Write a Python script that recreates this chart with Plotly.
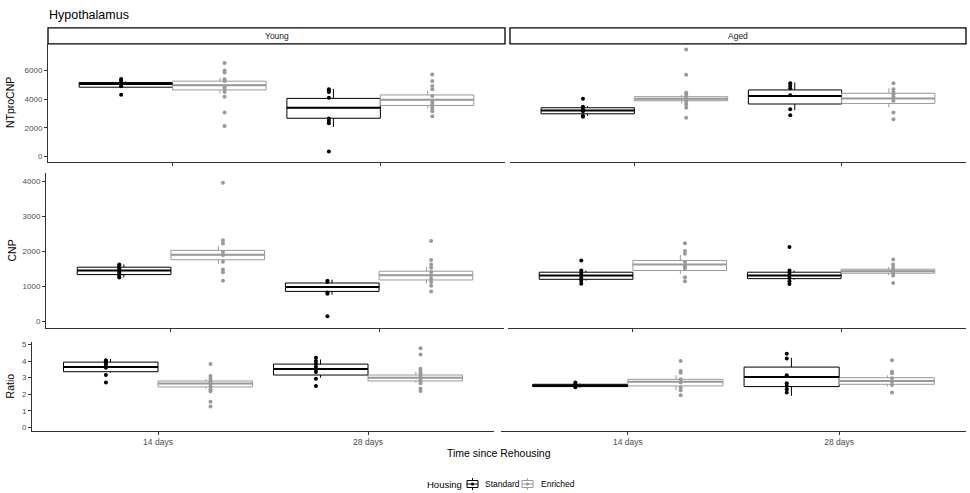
import plotly.graph_objects as go

W, H = 970, 493

AGES = ["Young", "Aged"]
TIMES = ["14 days", "28 days"]
HOUSING = ["Standard", "Enriched"]
MEASURES = ["NTproCNP", "CNP", "Ratio"]

# --- DATA ---
# group order in every list: Young 14 d, Young 28 d, Aged 14 d, Aged 28 d
# box rows: (q1, median, q3, whisker low, whisker high)
NTPRO_STD_BOX = [(4830, 5060, 5160, 4870, 5230), (2670, 3400, 4050, 2060, 4710),
                 (2980, 3210, 3400, 2840, 3520), (3660, 4220, 4640, 3230, 5160)]
NTPRO_ENR_BOX = [(4640, 4970, 5250, 4400, 5500), (3560, 3960, 4290, 3350, 4590),
                 (3890, 4030, 4170, 3700, 4290), (3700, 4050, 4410, 3420, 4760)]
NTPRO_STD_PTS = [[5400, 5300, 5200, 5100, 5000, 4900, 4310],
                 [4690, 4590, 4500, 4100, 2650, 2480, 2320, 350],
                 [4030, 3470, 3300, 3160, 2840, 2770],
                 [5110, 4920, 4760, 4270, 3300, 2880]]
NTPRO_ENR_PTS = [[6515, 6000, 5860, 5390, 5270, 4830, 4690, 4500, 4170, 3070, 2130],
                 [5720, 5270, 4920, 4690, 4220, 3820, 3660, 3520, 3350, 3160, 2810],
                 [7450, 5700, 4450, 4340, 4170, 4030, 3820, 3630, 3400, 2700],
                 [5110, 4690, 4500, 4340, 4170, 3890, 3070, 2600]]

CNP_STD_BOX = [(1330, 1446, 1542, 1250, 1620), (848, 973, 1089, 752, 1185),
               (1195, 1301, 1398, 1157, 1446), (1214, 1301, 1398, 1185, 1446)]
CNP_ENR_BOX = [(1754, 1899, 2024, 1640, 2150), (1176, 1311, 1427, 1080, 1542),
               (1446, 1620, 1735, 1350, 1890), (1369, 1427, 1484, 1311, 1542)]
CNP_STD_PTS = [[1620, 1580, 1540, 1500, 1460, 1420, 1380, 1330, 1290, 1250],
               [1157, 1118, 819, 781, 135],
               [1735, 1446, 1378, 1311, 1234, 1157, 1070],
               [2120, 1446, 1378, 1311, 1234, 1137, 1060]]
CNP_ENR_PTS = [[3960, 2313, 2217, 1976, 1889, 1696, 1475, 1398, 1157],
               [2294, 1745, 1620, 1523, 1407, 1311, 1214, 1118, 1012, 848],
               [2226, 2005, 1928, 1687, 1571, 1513, 1253, 1137],
               [1764, 1620, 1523, 1446, 1378, 1301, 1089]]

RATIO_STD_BOX = [(3.36, 3.64, 3.94, 3.30, 4.14), (3.16, 3.52, 3.82, 3.00, 4.10),
                 (2.46, 2.52, 2.60, 2.40, 2.64), (2.46, 3.04, 3.64, 1.90, 4.20)]
RATIO_ENR_BOX = [(2.44, 2.64, 2.80, 2.34, 2.90), (2.80, 3.00, 3.16, 2.70, 3.34),
                 (2.50, 2.76, 2.90, 2.24, 3.14), (2.60, 2.80, 3.00, 2.46, 3.14)]
RATIO_STD_PTS = [[4.06, 3.96, 3.84, 3.70, 3.60, 3.16, 2.70],
                 [4.20, 4.00, 3.84, 3.66, 3.50, 3.34, 2.94, 2.50],
                 [2.70, 2.62, 2.55, 2.48, 2.42],
                 [4.44, 4.16, 3.14, 2.66, 2.50, 2.30, 2.10]]
RATIO_ENR_PTS = [[3.82, 3.10, 2.94, 2.80, 2.64, 2.46, 2.30, 2.18, 1.54, 1.26],
                 [4.78, 4.40, 3.54, 3.40, 3.26, 3.10, 2.94, 2.80, 2.66, 2.34, 2.20],
                 [4.00, 3.40, 3.30, 2.90, 2.70, 2.40, 2.24, 1.94],
                 [4.06, 3.36, 3.26, 2.96, 2.76, 2.56, 2.10]]

Y_TICKS = [[0, 2000, 4000, 6000], [0, 1000, 2000, 3000, 4000], [0, 1, 2, 3, 4, 5]]

BOXES = {"NTproCNP": (NTPRO_STD_BOX, NTPRO_ENR_BOX), "CNP": (CNP_STD_BOX, CNP_ENR_BOX),
         "Ratio": (RATIO_STD_BOX, RATIO_ENR_BOX)}
POINTS = {"NTproCNP": (NTPRO_STD_PTS, NTPRO_ENR_PTS), "CNP": (CNP_STD_PTS, CNP_ENR_PTS),
          "Ratio": (RATIO_STD_PTS, RATIO_ENR_PTS)}

# --- STYLE / LAYOUT ---
FONT = "Liberation Sans, Arial, sans-serif"
COLORS = {"Standard": "#000000", "Enriched": "#999999"}
BOX_OFF = {"Standard": -0.225, "Enriched": 0.225}
WHISK_OFF = {"Standard": -0.226, "Enriched": 0.228}
PT_OFF = {"Standard": -0.248, "Enriched": 0.25}
HALF = 0.225

# pixel geometry: (top, bottom) per row, (left, right) per row/column
ROW_Y = [(43, 162), (173, 328), (342, 432)]
ROW_X = [[(48, 505), (510, 966)], [(46, 504), (508, 966)], [(32, 494), (501, 966)]]
Y_RANGES = [(-400, 7850), (-190, 4230), (-0.24, 5.18)]
YTITLE_X = [10, 12, 10]
AXIS_COL = "#333333"
TICK_COL = "#4d4d4d"
# legend key pixel spots: (icon left, text left)
LEG_Y = 485
LEG_KEYS = {"Standard": (467, 483), "Enriched": (522, 539)}


def ax_names(r, c):
    n = r * 2 + c + 1
    s = "" if n == 1 else str(n)
    return "x" + s, "y" + s, "xaxis" + s, "yaxis" + s


def px(x):
    return x / W


def py(y):
    return 1 - y / H


fig = go.Figure()
layout = {}

for r, meas in enumerate(MEASURES):
    for hi, h in enumerate(HOUSING):
        box = BOXES[meas][hi]
        pts = POINTS[meas][hi]
        col = COLORS[h]
        for c in range(2):
            xa, ya, _, _ = ax_names(r, c)
            groups = [c * 2, c * 2 + 1]
            xc = [t + 1 + BOX_OFF[h] for t in range(2)]
            fig.add_trace(go.Box(
                x=xc, q1=[box[g][0] for g in groups], median=[box[g][1] for g in groups],
                q3=[box[g][2] for g in groups], lowerfence=[box[g][0] for g in groups],
                upperfence=[box[g][2] for g in groups], width=2 * HALF, whiskerwidth=0,
                fillcolor="white", line=dict(color=col, width=1),
                name=h, legendgroup=h, showlegend=False,
                boxpoints=False, hoverinfo="skip", xaxis=xa, yaxis=ya))
            # thicker median line
            mx, my = [], []
            for t, g in enumerate(groups):
                mx += [xc[t] - HALF, xc[t] + HALF, None]
                my += [box[g][1], box[g][1], None]
            fig.add_trace(go.Scatter(x=mx, y=my, mode="lines", line=dict(color=col, width=2),
                                     showlegend=False, hoverinfo="skip", xaxis=xa, yaxis=ya))
            # short error whiskers, hidden behind the box body
            wx, wy = [], []
            for t, g in enumerate(groups):
                q1, _, q3, lo, hi_ = box[g]
                xw = t + 1 + WHISK_OFF[h]
                if lo < q1:
                    wx += [xw, xw, None]
                    wy += [lo, q1, None]
                if hi_ > q3:
                    wx += [xw, xw, None]
                    wy += [q3, hi_, None]
            fig.add_trace(go.Scatter(x=wx, y=wy, mode="lines", line=dict(color=col, width=1),
                                     showlegend=False, hoverinfo="skip", xaxis=xa, yaxis=ya))
            # raw points
            pxs, pys = [], []
            for t, g in enumerate(groups):
                pxs += [t + 1 + PT_OFF[h]] * len(pts[g])
                pys += pts[g]
            fig.add_trace(go.Scatter(x=pxs, y=pys, mode="markers",
                                     marker=dict(color=col, size=4),
                                     showlegend=False, hoverinfo="skip", xaxis=xa, yaxis=ya))

    top, bot = ROW_Y[r]
    for c in range(2):
        xa, ya, xk, yk = ax_names(r, c)
        left, right = ROW_X[r][c]
        layout[xk] = dict(domain=[px(left), px(right)], range=[0.4, 2.6], anchor=ya,
                          tickvals=[1, 2], ticktext=TIMES, showticklabels=(r == 2),
                          ticks="outside", ticklen=3, tickcolor=AXIS_COL, showline=True,
                          linecolor=AXIS_COL, linewidth=1, showgrid=False, zeroline=False,
                          tickfont=dict(size=8.5, color=TICK_COL, family=FONT))
        layout[yk] = dict(domain=[py(bot), py(top)], range=list(Y_RANGES[r]), anchor=xa,
                          tickvals=Y_TICKS[r], showticklabels=(c == 0),
                          ticks="outside" if c == 0 else "", ticklen=3, tickcolor=AXIS_COL,
                          showline=(c == 0), linecolor=AXIS_COL, linewidth=1,
                          showgrid=False, zeroline=False,
                          tickfont=dict(size=8, color=TICK_COL, family=FONT))

annotations = [
    dict(text="Hypothalamus", x=px(47), y=py(14), xref="paper", yref="paper",
         xanchor="left", yanchor="middle", showarrow=False, font=dict(size=12.5, color="#000")),
    dict(text="Time since Rehousing", x=px(499), y=py(454), xref="paper", yref="paper",
         xanchor="center", yanchor="middle", showarrow=False, font=dict(size=10.5, color="#000")),
]
for r, meas in enumerate(MEASURES):
    top, bot = ROW_Y[r]
    annotations.append(dict(text=meas, x=px(YTITLE_X[r]), y=py((top + bot) / 2),
                            xref="paper", yref="paper", textangle=-90, showarrow=False,
                            xanchor="center", yanchor="middle", font=dict(size=10.5, color="#000")))

shapes = []
for c, age in enumerate(AGES):
    left, right = ROW_X[0][c]
    shapes.append(dict(type="rect", xref="paper", yref="paper", x0=px(left), x1=px(right),
                       y0=py(43), y1=py(27), line=dict(color="#000", width=1.3),
                       fillcolor="white", layer="below"))
    annotations.append(dict(text=age, x=px((left + right) / 2), y=py(35), xref="paper",
                            yref="paper", showarrow=False, xanchor="center", yanchor="middle",
                            font=dict(size=8.5, color="#1a1a1a")))

# legend (ggplot style keys: box + whisker + point)
annotations.append(dict(text="Housing", x=px(425), y=py(LEG_Y), xref="paper", yref="paper",
                        xanchor="left", yanchor="middle", showarrow=False,
                        font=dict(size=9.5, color="#000")))
for h in HOUSING:
    ix, tx = LEG_KEYS[h]
    col = COLORS[h]
    cx = ix + 5.5
    shapes.append(dict(type="line", xref="paper", yref="paper", x0=px(cx), x1=px(cx),
                       y0=py(LEG_Y + 6), y1=py(LEG_Y - 6), line=dict(color=col, width=1)))
    shapes.append(dict(type="rect", xref="paper", yref="paper", x0=px(ix), x1=px(ix + 11),
                       y0=py(LEG_Y + 3.5), y1=py(LEG_Y - 3.5), fillcolor="white",
                       line=dict(color=col, width=1)))
    shapes.append(dict(type="line", xref="paper", yref="paper", x0=px(ix), x1=px(ix + 11),
                       y0=py(LEG_Y), y1=py(LEG_Y), line=dict(color=col, width=1)))
    shapes.append(dict(type="circle", xref="paper", yref="paper", x0=px(cx - 1.6),
                       x1=px(cx + 1.6), y0=py(LEG_Y + 1.6), y1=py(LEG_Y - 1.6),
                       fillcolor=col, line=dict(color=col, width=0)))
    annotations.append(dict(text=h, x=px(tx), y=py(LEG_Y), xref="paper", yref="paper",
                            xanchor="left", yanchor="middle", showarrow=False,
                            font=dict(size=8.5, color="#000")))

fig.update_layout(
    width=W, height=H, margin=dict(l=0, r=0, t=0, b=0),
    paper_bgcolor="white", plot_bgcolor="white",
    font=dict(family=FONT, color="#000"),
    boxmode="overlay", showlegend=False, annotations=annotations, shapes=shapes,
    **layout,
)

fig.write_html("out.html", config={"displayModeBar": False},
               post_script="document.body.style.margin='0';document.body.style.overflow='hidden';")
